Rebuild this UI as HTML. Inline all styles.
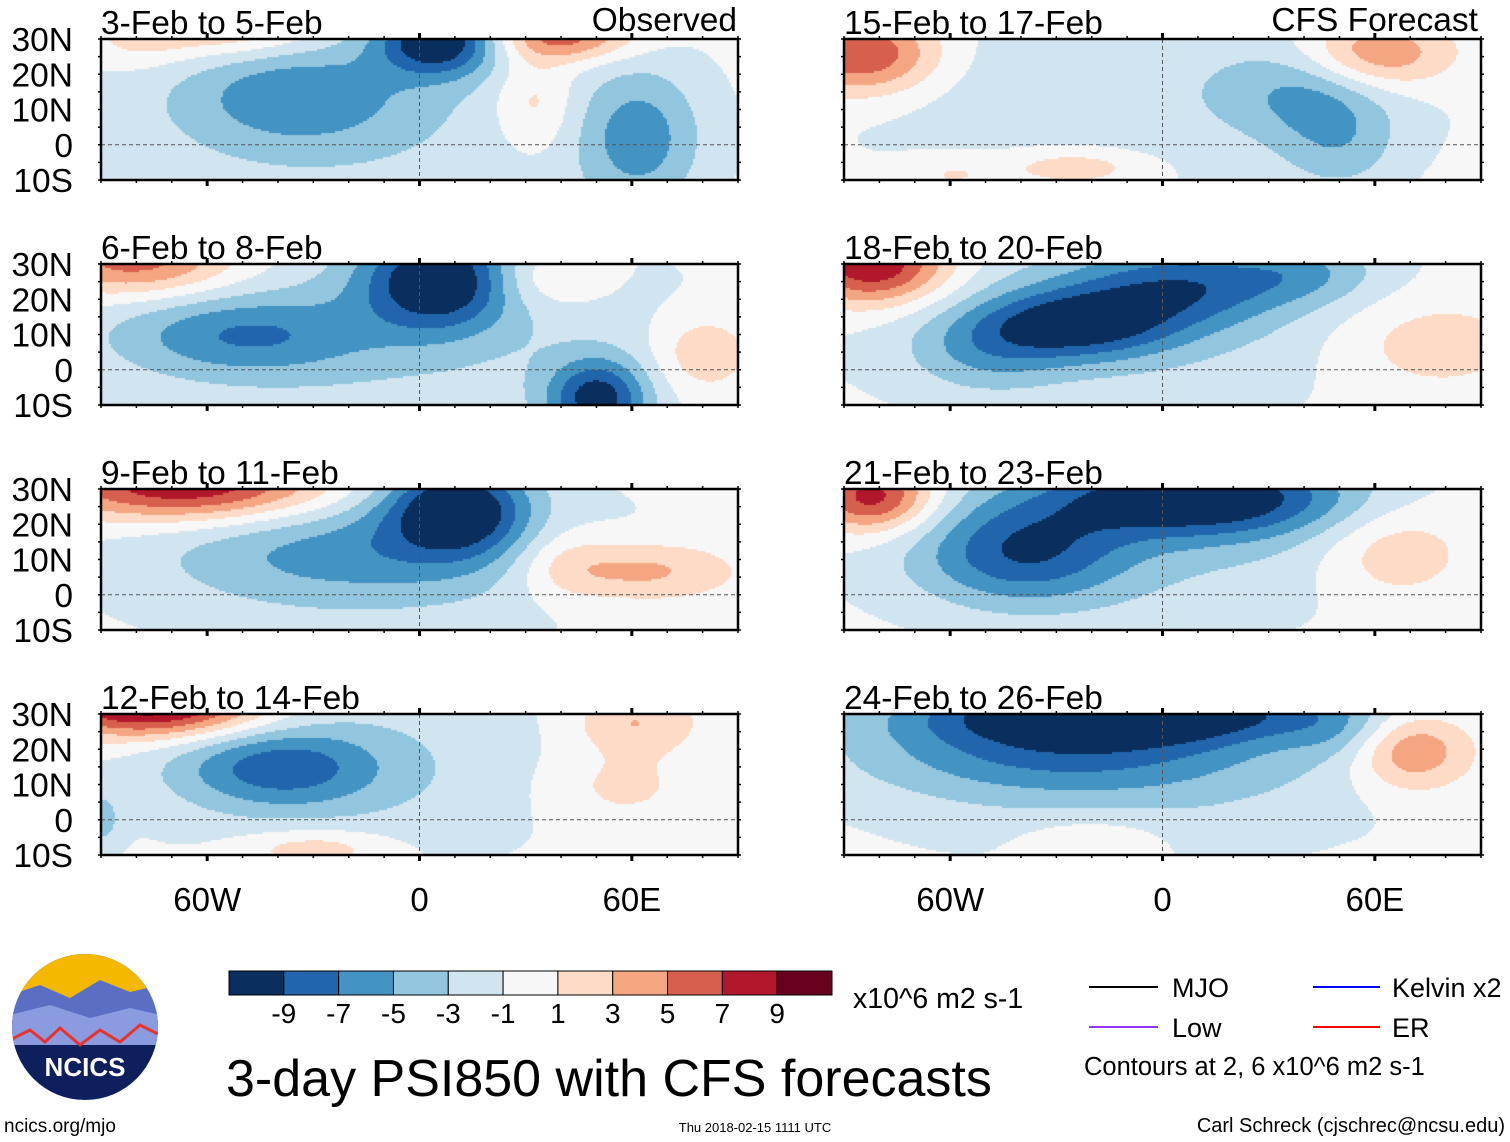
<!DOCTYPE html>
<html><head><meta charset="utf-8"><style>
body{margin:0;background:#fff;width:1510px;height:1142px;position:relative;overflow:hidden;font-family:"Liberation Sans",sans-serif;}
canvas{position:absolute;}
</style></head><body>
<svg id="ov" width="1510" height="1142" style="position:absolute;left:0;top:0"></svg>
<script>
// colorbar levels and colors
const levels=[-9,-7,-5,-3,-1,1,3,5,7,9];
const colors=["#0a2f5e","#2166ac","#4393c3","#92c5de","#d1e5f0","#f7f7f7","#fddbc7","#f4a582","#d6604d","#b2182b","#67001f"];
const titles=["3-Feb to 5-Feb","6-Feb to 8-Feb","9-Feb to 11-Feb","12-Feb to 14-Feb","15-Feb to 17-Feb","18-Feb to 20-Feb","21-Feb to 23-Feb","24-Feb to 26-Feb"];
// anomaly blobs per panel: [lon, lat, amplitude, sigmaLon, sigmaLat]
const blobs0=[[-20,5,-2.6,70,30],[-55,34,5,18,6],[-35,14,-4.5,22,10],[5,30,-10,12,7],[40,31,7,14,5],[62,2,-5,12,14],[32,12,3.2,8,10],[-80,30,2,10,6]];
const blobs1=[[-10,10,-2.8,70,25],[-80,31,7,20,7],[5,26,-10,15,10],[-50,10,-5,25,8],[50,-8,-9,10,8],[80,5,3.5,10,8],[35,26,3,12,6]];
const blobs2=[[-15,12,-2.6,60,22],[-65,31,10,28,7],[10,25,-10,14,9],[-20,12,-3.5,35,10],[62,7,4.5,18,6],[40,10,2.5,10,8]];
const blobs3=[[-20,15,-2.8,50,22],[-75,32,11,22,6],[-40,15,-6,20,8],[-30,-8,3.5,15,4],[55,10,2.2,15,8],[60,28,3.5,12,6],[-90,0,-3,4,6]];
const blobs4=[[-10,15,-2.6,65,22],[-85,26,8,15,8],[-25,-6,3.5,15,4],[60,26,6,15,7],[40,15,-3.5,15,9],[50,0,-3,12,10],[-60,-8,2,10,4]];
const blobs5=[[-10,15,-2.8,65,22],[-82,30,10,15,8],[-25,13,-8,20,7],[5,24,-6,22,8],[75,8,3,20,10],[-50,5,-3,15,8],[40,28,-3,15,6]];
const blobs6=[[-10,15,-3,60,20],[-82,28,9,12,7],[10,28,-10,30,8],[-40,12,-6.5,20,10],[65,13,3.5,15,10]];
const blobs7=[[-10,15,-3,60,20],[-10,31,-10,40,6],[-30,20,-5,40,9],[70,20,6,12,8],[-20,-5,2,15,5],[50,25,-2,10,6]];
const allBlobs=[blobs0,blobs1,blobs2,blobs3,blobs4,blobs5,blobs6,blobs7];
const latTicks=["30N","20N","10N","0","10S"];
const lonTicks=["60W","0","60E"];
const lonTickVals=[-60,0,60];

const ov=document.getElementById('ov');
const NS='http://www.w3.org/2000/svg';
function sv(tag,attrs){const e=document.createElementNS(NS,tag);for(const k in attrs)e.setAttribute(k,attrs[k]);ov.appendChild(e);return e;}
function txt(s,x,y,size,anchor){const e=sv('text',{x:x,y:y,'font-size':size,'text-anchor':anchor||'start','font-family':'Liberation Sans, sans-serif',fill:'#000'});e.textContent=s;return e;}
function colorFor(v){let i=0;while(i<levels.length&&v>=levels[i])i++;return colors[i];}

const colX=[101,844],rowY=[39,264,489,714],W=637,H=141;
for(let p=0;p<8;p++){
 const c=p<4?0:1,r=p%4,x0=colX[c],y0=rowY[r];
 const xs=lon=>x0+(lon+90)/180*W, ys=lat=>y0+(30-lat)/40*H;
 const cv=document.createElement('canvas');cv.width=W;cv.height=H;cv.style.left=x0+'px';cv.style.top=y0+'px';
 
 
 document.body.insertBefore(cv,ov);
 const ctx=cv.getContext('2d');const bl=allBlobs[p];
 for(let py=0;py<H;py+=2)for(let px=0;px<W;px+=2){
  const lon=-90+px/W*180,lat=30-py/H*40;let v=0;
  for(const b of bl){const dx=(lon-b[0])/b[3],dy=(lat-b[1])/b[4];v+=b[2]*Math.exp(-(dx*dx+dy*dy)/2);}
  ctx.fillStyle=colorFor(v);ctx.fillRect(px,py,2,2);
 }
 sv('line',{x1:x0,x2:x0+W,y1:ys(0),y2:ys(0),stroke:'#555','stroke-dasharray':'4,3','stroke-width':1});
 sv('line',{x1:xs(0),x2:xs(0),y1:y0,y2:y0+H,stroke:'#555','stroke-dasharray':'4,3','stroke-width':1});
 const fr=sv('rect',{x:x0,y:y0,width:W,height:H,fill:'none',stroke:'#000','stroke-width':2.5});
 
 
 for(let lon=-90;lon<=90;lon+=10){const big=lon%60===0;
  sv('line',{x1:xs(lon),x2:xs(lon),y1:y0+H,y2:y0+H+(big?6:3),stroke:'#000','stroke-width':big?3:1.5});
  sv('line',{x1:xs(lon),x2:xs(lon),y1:y0,y2:y0-(big?6:3),stroke:'#000','stroke-width':big?3:1.5});}
 for(let lat=-10;lat<=30;lat+=5){sv('line',{x1:x0-3,x2:x0,y1:ys(lat),y2:ys(lat),stroke:'#000','stroke-width':1.5});sv('line',{x1:x0+W,x2:x0+W+3,y1:ys(lat),y2:ys(lat),stroke:'#000','stroke-width':1.5});}
 const t=txt(titles[p],x0,y0-5,33.5);
 
 
 if(c===0){latTicks.forEach((s,i)=>{const l=txt(s,73,ys(30-i*10)+12,33.5,'end');
  
  });}
 if(r===3){lonTicks.forEach((s,i)=>{const l=txt(s,xs(lonTickVals[i]),911,33,'middle');
  
  });}
}
const ob=txt("Observed",737,31,33.5,'end');
const cf=txt("CFS Forecast",1478,31,33.5,'end');

const cbx=229,cbw=603/11;
colors.forEach((col,i)=>{const b=sv('rect',{x:cbx+i*cbw,y:971,width:cbw,height:24,fill:col,stroke:'#000','stroke-width':1});
 
 });
levels.forEach((lv,i)=>{const l=txt(String(lv),cbx+(i+1)*cbw,1023,28,'middle');
 
 });
const un=txt("x10^6 m2 s-1",853,1008,28.5);
const ti=txt("3-day PSI850 with CFS forecasts",226,1096,52);

const leg=[["MJO","#000",1089,1158,987,1172],["Kelvin x2","#0000ff",1313,1380,987,1392],["Low","#9933ff",1089,1158,1027,1172],["ER","#ff0000",1313,1380,1027,1392]];
leg.forEach(L=>{const ln=sv('line',{x1:L[2],x2:L[3],y1:L[4],y2:L[4],stroke:L[1],'stroke-width':2});
 
 
 const t=txt(L[0],L[5],L[4]+10,27);
 
 });
const ct=txt("Contours at 2, 6 x10^6 m2 s-1",1084,1075,25.5);
const f1=txt("ncics.org/mjo",4,1132,19);
const f2=txt("Thu 2018-02-15 1111 UTC",755,1132,13,'middle');
const f3=txt("Carl Schreck (cjschrec@ncsu.edu)",1505,1132,20,'end');

const g=document.createElementNS(NS,'g');ov.appendChild(g);
g.innerHTML='<defs><clipPath id="lc"><circle cx="85" cy="1027" r="73"/></clipPath></defs><g clip-path="url(#lc)"><rect x="10" y="950" width="150" height="160" fill="#0d1f5c"/><rect x="10" y="950" width="150" height="50" fill="#f5b800"/><path d="M10 995 L40 985 L70 998 L100 980 L130 992 L160 985 L160 1040 L10 1040Z" fill="#5a6fc4"/><path d="M10 1015 L50 1005 L90 1018 L130 1008 L160 1015 L160 1045 L10 1045Z" fill="#8a9be0"/><path d="M10 1040 L30 1030 L45 1042 L60 1028 L80 1045 L100 1030 L120 1042 L140 1025 L160 1035" fill="none" stroke="#e8322e" stroke-width="3"/></g><text x="85" y="1076" font-size="26" font-weight="bold" fill="#fff" text-anchor="middle" font-family="Liberation Sans, sans-serif">NCICS</text>';
</script>
</body></html>
